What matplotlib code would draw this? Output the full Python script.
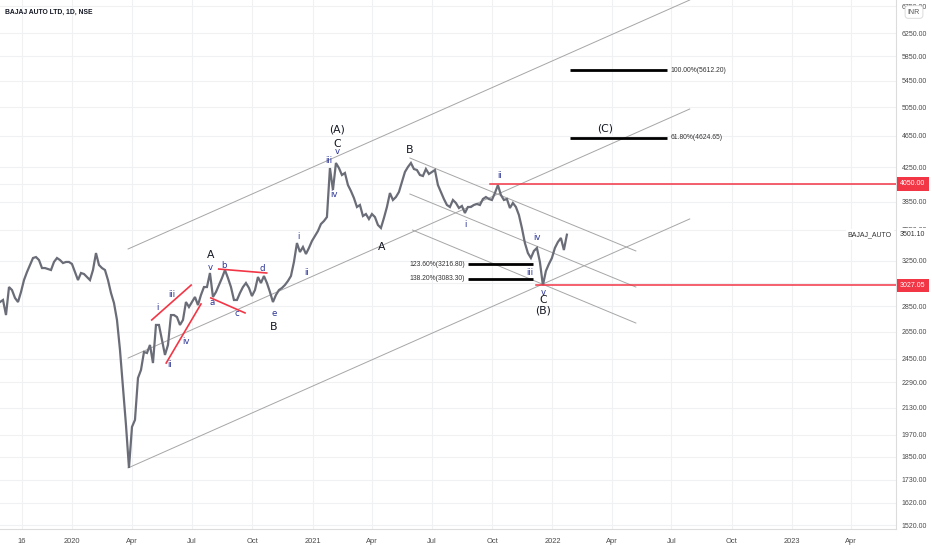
import matplotlib
matplotlib.use("Agg")
import matplotlib.pyplot as plt
import matplotlib.ticker as mticker
import pandas as pd

# ---------------- data ----------------
close = [2885, 2902, 2779, 3012, 2986, 2919, 2885, 2969, 3073, 3145,
         3209, 3274, 3283, 3255, 3181, 3181, 3172, 3163, 3237, 3274,
         3255, 3227, 3237, 3237, 3218, 3145, 3073, 3136, 3127, 3100,
         3073, 3163, 3321, 3209, 3181, 3163, 3073, 2961, 2877, 2740,
         2514, 2260, 2026, 1791, 2015, 2056, 2319, 2373, 2499, 2492,
         2550, 2421, 2701, 2701, 2587, 2478, 2550, 2779, 2779, 2763,
         2701, 2740, 2885, 2844, 2885, 2927, 2860, 2944, 3012, 3012,
         3136, 2927, 2969, 3030, 3091, 3163, 3091, 3012, 2902, 2902,
         2961, 3012, 3047, 3004, 2935, 2986, 3100, 3047, 3109, 3047,
         2969, 2885, 2944, 2986, 3004, 3030, 3065, 3109, 3237, 3418,
         3331, 3379, 3312, 3370, 3438, 3488, 3538, 3610, 3641, 3683,
         4240, 3981, 4302, 4240, 4156, 4180, 4038, 3969, 3890, 3791,
         3813, 3694, 3715, 3662, 3715, 3683, 3600, 3569, 3673, 3791,
         3946, 3868, 3901, 3958, 4073, 4192, 4253, 4302, 4228, 4216,
         4156, 4144, 4228, 4168, 4192, 4216, 4038, 3958, 3879, 3813,
         3791, 3868, 3835, 3780, 3802, 3726, 3791, 3791, 3813, 3824,
         3813, 3879, 3901, 3879, 3868, 3946, 4038, 3924, 3868, 3879,
         3780, 3835, 3791, 3705, 3569, 3418, 3321, 3274, 3341, 3370,
         3237, 3027.05, 3154, 3218, 3274, 3370, 3428, 3468, 3350, 3501.10]
first_date = "2019-09-13"
last_date = "2022-01-23"
last_price = 3501.10
symbol = "BAJAJ_AUTO"
title = "BAJAJ AUTO LTD, 1D, NSE"

ytick_values = [1520, 1620, 1730, 1850, 1970, 2130, 2290, 2450, 2650, 2850,
                3050, 3250, 3550, 3850, 4050, 4250, 4650, 5050, 5450, 5850,
                6250, 6750]
xtick_dates = ["2019-10-16", "2020-01-01", "2020-04-01", "2020-07-01", "2020-10-01",
               "2021-01-01", "2021-04-01", "2021-07-01", "2021-10-01",
               "2022-01-01", "2022-04-01", "2022-07-01", "2022-10-01",
               "2023-01-01", "2023-04-01"]
xtick_labels = ["16", "2020", "Apr", "Jul", "Oct", "2021", "Apr", "Jul", "Oct",
                "2022", "Apr", "Jul", "Oct", "2023", "Apr"]

# rising parallel channel
asc_dates = ["2020-03-26", "2022-07-29"]
asc_upper = [3360, 6872]
asc_middle = [2456, 5024]
asc_lower = [1791, 3663]

# falling channel from B
desc_dates = ["2021-05-29", "2022-05-08"]
desc_upper = [4364, 3341]
desc_middle = [3935, 3012]
desc_lower_dates = ["2021-06-02", "2022-05-08"]
desc_lower = [3548, 2716]

# red trend lines (triangle / wedge)
red_start_dates = ["2020-05-01", "2020-05-23", "2020-07-30", "2020-08-11"]
red_start_prices = [2740, 2421, 2919, 3172]
red_end_dates = ["2020-06-30", "2020-07-15", "2020-09-20", "2020-10-23"]
red_end_prices = [3029, 2869, 2796, 3136]

# red horizontal levels
red_levels = [4050.00, 3027.05]
red_level_starts = ["2021-09-28", "2021-12-07"]

# fibonacci levels
fib_up_values = [5612.20, 4624.65]
fib_up_names = ["100.00%", "61.80%"]
fib_up_dates = ["2022-01-28", "2022-06-24"]
fib_dn_values = [3216.80, 3083.30]
fib_dn_names = ["123.60%", "138.20%"]
fib_dn_dates = ["2021-08-25", "2021-12-02"]

# wave labels: text, date, price
major_labels = [("(A)", "2021-02-07", 4730), ("C", "2021-02-07", 4543),
                ("B", "2021-05-29", 4465), ("A", "2021-04-16", 3379),
                ("C", "2021-12-18", 2902), ("(B)", "2021-12-18", 2819),
                ("(C)", "2022-03-22", 4757), ("A", "2020-07-29", 3302),
                ("B", "2020-11-03", 2685)]
minor_labels = [("v", "2021-02-07", 4440), ("iii", "2021-01-26", 4339),
                ("iv", "2021-02-02", 3924), ("i", "2020-12-10", 3478),
                ("ii", "2020-12-23", 3136), ("i", "2021-08-21", 3600),
                ("ii", "2021-10-12", 4156), ("iv", "2021-12-08", 3468),
                ("iii", "2021-11-28", 3136), ("v", "2021-12-18", 2969),
                ("v", "2020-07-29", 3190), ("b", "2020-08-19", 3200),
                ("d", "2020-10-16", 3181), ("a", "2020-08-01", 2885),
                ("c", "2020-09-08", 2795), ("e", "2020-11-03", 2795),
                ("i", "2020-05-09", 2836), ("iii", "2020-06-01", 2944),
                ("iv", "2020-06-22", 2579), ("ii", "2020-05-28", 2414)]

# ---------------- drawing ----------------
D = pd.to_datetime
narrow = ["Liberation Sans", "DejaVu Sans"]
GREY_TXT = "#4a4a4a"
RED = "#f23645"
BLUE = "#2b3497"
CHAN = "#a6a6a6"

fig = plt.figure(figsize=(9.32, 5.50), dpi=100)
fig.patch.set_facecolor("white")
ax = fig.add_axes([0, 1 - 529 / 550, 896 / 932, 529 / 550])
ax.set_yscale("log")
ax.set_ylim(1502.7, 6872)
ax.set_xlim(D("2019-09-13"), D("2023-06-08"))

# grid / ticks
ax.yaxis.set_major_locator(mticker.FixedLocator(ytick_values))
ax.yaxis.set_minor_locator(mticker.NullLocator())
ax.yaxis.set_major_formatter(mticker.FixedFormatter([f"{v:.2f}" for v in ytick_values]))
ax.yaxis.tick_right()
ax.set_xticks(D(xtick_dates))
ax.set_xticklabels(xtick_labels)
ax.xaxis.set_minor_locator(mticker.NullLocator())
ax.tick_params(axis="y", length=0, pad=4.2, labelsize=5.0, labelcolor=GREY_TXT)
ax.tick_params(axis="x", length=0, pad=6.5, labelsize=5.4, labelcolor=GREY_TXT)
for lab in ax.get_yticklabels() + ax.get_xticklabels():
    lab.set_family(narrow)
ax.grid(True, color="#f0f1f3", lw=0.8, zorder=0)
for s in ["top", "left"]:
    ax.spines[s].set_visible(False)
for s in ["right", "bottom"]:
    ax.spines[s].set_color("#dcdcdc")
    ax.spines[s].set_linewidth(0.8)

# channels
for arr in (asc_upper, asc_middle, asc_lower):
    ax.plot(D(asc_dates), arr, color=CHAN, lw=0.7, zorder=2)
ax.plot(D(desc_dates), desc_upper, color=CHAN, lw=0.7, zorder=2)
ax.plot(D(desc_dates), desc_middle, color=CHAN, lw=0.7, zorder=2)
ax.plot(D(desc_lower_dates), desc_lower, color=CHAN, lw=0.7, zorder=2)

# price
dates = pd.date_range(first_date, last_date, periods=len(close))
ax.plot(dates, close, color="#6a6d77", lw=1.6, zorder=3, solid_joinstyle="miter")

# red trend lines
for sd, sp, ed, ep in zip(red_start_dates, red_start_prices, red_end_dates, red_end_prices):
    ax.plot(D([sd, ed]), [sp, ep], color=RED, lw=1.2, zorder=4)
for lvl, sd in zip(red_levels, red_level_starts):
    ax.plot([D(sd), D("2023-06-08")], [lvl, lvl], color=RED, lw=1.1, zorder=4)

# fibonacci levels
for v, n in zip(fib_up_values, fib_up_names):
    ax.plot(D(fib_up_dates), [v, v], color="black", lw=2.0, zorder=4, solid_capstyle="butt")
    ax.annotate(f"{n}({v:.2f})", xy=(D(fib_up_dates[1]), v), xytext=(2.5, 0),
                textcoords="offset points", ha="left", va="center",
                fontsize=4.9, color="#333333", family=narrow)
for v, n in zip(fib_dn_values, fib_dn_names):
    ax.plot(D(fib_dn_dates), [v, v], color="black", lw=2.0, zorder=4, solid_capstyle="butt")
    ax.annotate(f"{n}({v:.2f})", xy=(D(fib_dn_dates[0]), v), xytext=(-2, 0),
                textcoords="offset points", ha="right", va="center",
                fontsize=4.9, color="#333333", family=narrow)

# wave labels
for t, d, p in major_labels:
    ax.text(D(d), p, t, ha="center", va="center", fontsize=7.8, color="#131722", zorder=6)
for t, d, p in minor_labels:
    ax.text(D(d), p, t, ha="center", va="center", fontsize=6.2, color=BLUE, zorder=6)

# price-scale badges
for lvl in red_levels:
    ax.annotate(f"{lvl:.2f}", xy=(1, lvl), xycoords=("axes fraction", "data"),
                xytext=(3.0, 0), textcoords="offset points", ha="left", va="center",
                fontsize=5.0, color="white", family=narrow, annotation_clip=False,
                bbox=dict(boxstyle="square,pad=0.45", fc=RED, ec="none"), zorder=10)
ax.annotate(f"{last_price:.2f}", xy=(1, last_price), xycoords=("axes fraction", "data"),
            xytext=(3.0, 0), textcoords="offset points", ha="left", va="center",
            fontsize=5.0, color="#333333", family=narrow, annotation_clip=False,
            bbox=dict(boxstyle="square,pad=0.45", fc="white", ec="none"), zorder=10)
ax.annotate(symbol, xy=(1, last_price), xycoords=("axes fraction", "data"),
            xytext=(-3, 0), textcoords="offset points", ha="right", va="center",
            fontsize=5.0, color="#333333", family=narrow, zorder=10,
            bbox=dict(boxstyle="square,pad=0.3", fc="white", ec="none"))

fig.text(5 / 932, 1 - 12 / 550, title, ha="left", va="center", fontsize=4.9,
         fontweight="bold", color="#131722", family=narrow)
fig.text(914 / 932, 1 - 12 / 550, "INR", ha="center", va="center", fontsize=5.0,
         color="#555555", family=narrow,
         bbox=dict(boxstyle="round,pad=0.4", fc="white", ec="#d6d6d6", lw=0.6))

fig.savefig("out.png", dpi=100)
